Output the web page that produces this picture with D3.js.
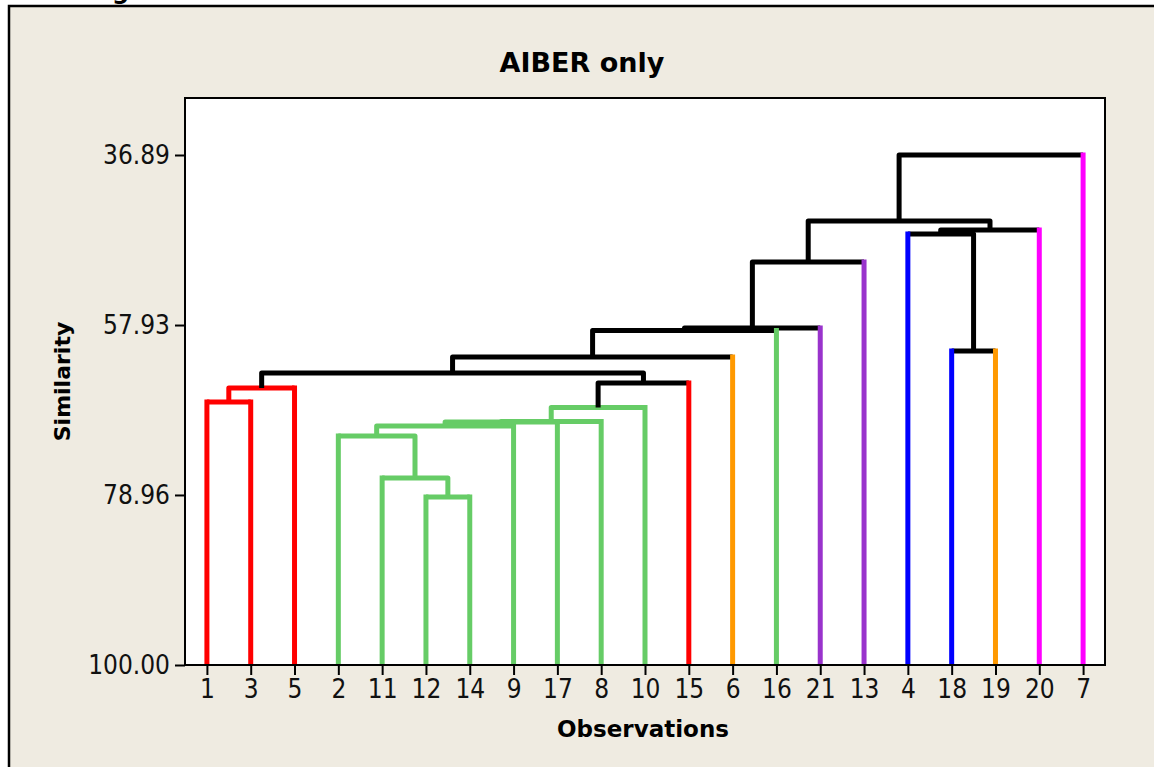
<!DOCTYPE html>
<html>
<head>
<meta charset="utf-8">
<script src="https://cdn.jsdelivr.net/npm/d3@7"></script>
<style>
  body { margin: 0; background: #fff; }
  svg { display: block; }
</style>
</head>
<body>
<script>
// Leaf order along the x axis
const observations = ["1","3","5","2","11","12","14","9","17","8","10","15","6","16","21","13","4","18","19","20","7"];
// Final-partition group of each observation (same order as above)
const groupOfObs = [0,0,0,1,1,1,1,1,1,1,1,0,2,1,3,3,4,4,2,5,5];
const groupColors = ["#FF0000", "#66CC66", "#FF9900", "#9933CC", "#0000FF", "#FF00FF"];
// Amalgamation steps: [cluster A, cluster B, similarity]; "#n" refers to step n
const merges = [
  ["12", "14", 79.21],
  ["11", "#0", 76.86],
  ["2",  "#1", 71.66],
  ["#2", "9",  70.42],
  ["#3", "17", 69.93],
  ["#4", "8",  69.88],
  ["#5", "10", 68.14],
  ["1",  "3",  67.46],
  ["#7", "5",  65.72],
  ["#6", "15", 65.10],
  ["#8", "#9", 63.87],
  ["#10","6",  61.89],
  ["18", "19", 61.14],
  ["#11","16", 58.60],
  ["#13","21", 58.30],
  ["#14","13", 50.13],
  ["4",  "#12",46.67],
  ["#16","20", 46.17],
  ["#15","#17",45.06],
  ["#18","7",  36.89]
];
const yTicks = [36.89, 57.93, 78.96, 100.00];
const titleText = "AIBER only";
const xTitle = "Observations";
const yTitle = "Similarity";

const W = 1154, H = 767;
const plot = { left: 185, right: 1105, top: 98, bottom: 665 };
const LW = 5;
const tickFont = "'DejaVu Sans Condensed', 'Liberation Sans', sans-serif";
const boldFont = "'DejaVu Sans', sans-serif";

const svg = d3.select("body").append("svg")
  .attr("width", W).attr("height", H);

// Graph window background
svg.append("rect").attr("x", 0).attr("y", 0).attr("width", W).attr("height", H).attr("fill", "#fff");
svg.append("rect")
  .attr("x", 9).attr("y", 6).attr("width", W + 20).attr("height", H + 20)
  .attr("fill", "#EFEBE1").attr("stroke", "#000").attr("stroke-width", 2.5);

// Caption above the graph window, mostly outside the page
svg.append("text").attr("x", 112).attr("y", -1)
  .attr("font-family", boldFont).attr("font-weight", "bold").attr("font-size", 24)
  .text("g");

const x = d3.scalePoint().domain(observations).range([plot.left, plot.right]).padding(0.5);
const y = d3.scaleLinear().domain([100, 36.89]).range([plot.bottom, 155]);

// Data region
svg.append("rect")
  .attr("x", plot.left).attr("y", plot.top)
  .attr("width", plot.right - plot.left).attr("height", plot.bottom - plot.top)
  .attr("fill", "#fff");

// Build tree geometry
const leafInfo = {};
observations.forEach((o, i) => { leafInfo[o] = { x: x(o), group: groupOfObs[i] }; });
const nodes = [];
function resolve(ref) {
  if (ref.startsWith("#")) return nodes[+ref.slice(1)];
  return { leaf: true, name: ref, x: leafInfo[ref].x, groups: new Set([leafInfo[ref].group]) };
}
merges.forEach(([a, b, s]) => {
  const A = resolve(a), B = resolve(b);
  const groups = new Set([...A.groups, ...B.groups]);
  const node = { x: (A.x + B.x) / 2, yv: y(s), sim: s, left: A, right: B, groups };
  node.color = groups.size === 1 ? groupColors[[...groups][0]] : "#000";
  nodes.push(node);
});

const g = svg.append("g");
// Links: internal child verticals + horizontal bar, in the link colour
nodes.forEach(n => {
  const p = d3.path();
  const L = n.left, R = n.right;
  if (L.leaf) p.moveTo(L.x, n.yv); else { p.moveTo(L.x, L.yv); p.lineTo(L.x, n.yv); }
  p.lineTo(R.x, n.yv);
  if (!R.leaf) p.lineTo(R.x, R.yv);
  g.append("path").attr("d", p.toString())
    .attr("fill", "none").attr("stroke", n.color)
    .attr("stroke-width", LW).attr("stroke-linejoin", "round");
});
// Leaf stems in each observation's group colour
nodes.forEach(n => {
  [n.left, n.right].filter(c => c.leaf).forEach(c => {
    g.append("line")
      .attr("x1", c.x).attr("x2", c.x)
      .attr("y1", y(100)).attr("y2", n.yv - LW / 2)
      .attr("stroke", groupColors[leafInfo[c.name].group])
      .attr("stroke-width", LW);
  });
});

// Frame of data region
svg.append("rect")
  .attr("x", plot.left).attr("y", plot.top)
  .attr("width", plot.right - plot.left).attr("height", plot.bottom - plot.top)
  .attr("fill", "none").attr("stroke", "#000").attr("stroke-width", 2);

// Axes
const xAxis = svg.append("g").attr("transform", `translate(0,${plot.bottom})`)
  .call(d3.axisBottom(x).tickSize(10).tickPadding(5));
const yAxis = svg.append("g").attr("transform", `translate(${plot.left},0)`)
  .call(d3.axisLeft(y).tickValues(yTicks).tickFormat(d3.format(".2f")).tickSize(10).tickPadding(5));
[xAxis, yAxis].forEach(ax => {
  ax.select(".domain").remove();
  ax.selectAll(".tick line").attr("stroke", "#000").attr("stroke-width", 2);
  ax.selectAll(".tick text").attr("fill", "#111")
    .attr("font-family", tickFont).attr("font-size", 26);
});

// Titles
svg.append("text").attr("x", 582).attr("y", 72).attr("text-anchor", "middle")
  .attr("font-family", boldFont).attr("font-weight", "bold").attr("font-size", 27)
  .text(titleText);
svg.append("text").attr("x", 643).attr("y", 737).attr("text-anchor", "middle")
  .attr("font-family", boldFont).attr("font-weight", "bold").attr("font-size", 23)
  .text(xTitle);
svg.append("text")
  .attr("transform", `translate(70,${(plot.top + plot.bottom) / 2}) rotate(-90)`)
  .attr("text-anchor", "middle")
  .attr("font-family", boldFont).attr("font-weight", "bold").attr("font-size", 22)
  .text(yTitle);
</script>
</body>
</html>
